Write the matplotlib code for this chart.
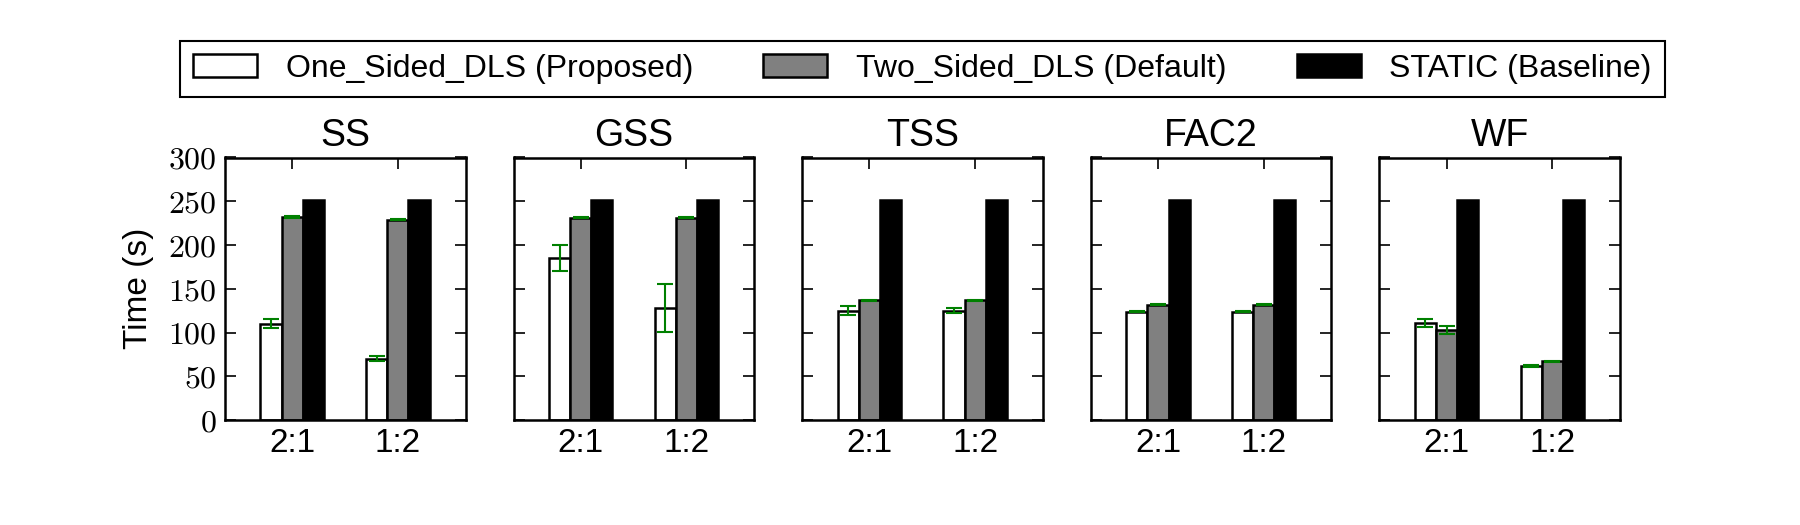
import numpy as np
import matplotlib
matplotlib.use("Agg")
import matplotlib.pyplot as plt
from matplotlib.ticker import FuncFormatter

plt.rcParams['font.family'] = ['Liberation Sans', 'DejaVu Sans']
plt.rcParams['mathtext.fontset'] = 'cm'

# data
schedules = ['SS', 'GSS', 'TSS', 'FAC2', 'WF']
ratios = ['2:1', '1:2']
series_names = ['One_Sided_DLS (Proposed)', 'Two_Sided_DLS (Default)', 'STATIC (Baseline)']

one_sided = [[110, 70], [185, 128], [125, 125], [124, 124], [111, 62]]
one_sided_err = [[5, 3], [15, 27], [5, 3], [0.7, 0.7], [5, 1]]
two_sided = [[232, 229], [231, 231], [137, 137], [132, 132], [103, 67]]
two_sided_err = [[0.7, 0.7], [0.7, 0.7], [0.7, 0.7], [0.7, 0.7], [5, 1]]
static = [[251, 251], [251, 251], [251, 251], [251, 251], [251, 251]]

colors = ['white', 'gray', 'black']
width = 0.2

fig, axes = plt.subplots(1, 5, figsize=(18, 5.25), dpi=100, sharey=True)
fig.subplots_adjust(left=0.125, right=0.9, bottom=0.2, top=0.7, wspace=0.2)

ind = np.arange(len(ratios))
err_kw = dict(ecolor=(0, 0.5, 0), elinewidth=1.5, capsize=6, capthick=1.5)

for i, ax in enumerate(axes):
    b1 = ax.bar(ind - width, one_sided[i], width, color=colors[0], edgecolor='black',
                linewidth=1.8, yerr=one_sided_err[i], error_kw=err_kw, zorder=2)
    b2 = ax.bar(ind, two_sided[i], width, color=colors[1], edgecolor='black',
                linewidth=1.8, yerr=two_sided_err[i], error_kw=err_kw, zorder=2)
    b3 = ax.bar(ind + width, static[i], width, color=colors[2], edgecolor='black',
                linewidth=1.8, zorder=2)
    ax.set_xlim(-0.635, 1.64)
    ax.set_ylim(0, 300)
    ax.set_yticks(np.arange(0, 301, 50))
    ax.set_xticks(ind)
    ax.set_xticklabels(ratios)
    ax.set_title(schedules[i], fontsize=27, pad=8)
    ax.tick_params(direction='in', top=True, right=True, length=8, width=1.2, pad=6)
    ax.tick_params(axis='x', labelsize=24)
    ax.tick_params(axis='y', labelsize=23)
    for s in ax.spines.values():
        s.set_linewidth(1.8)
    ax.yaxis.set_major_formatter(FuncFormatter(lambda v, p: r'$%d$' % v))

axes[0].set_ylabel('Time (s)', fontsize=24, labelpad=10)

leg = fig.legend([b1, b2, b3], series_names, loc='center', ncol=3,
                 bbox_to_anchor=(0.5125, 0.869), fontsize=23, fancybox=False,
                 edgecolor='black', framealpha=1, handlelength=2.0,
                 columnspacing=2.2, handletextpad=0.9, borderpad=0.4)
leg.get_frame().set_linewidth(1.5)

fig.savefig('out.png', dpi=100)
